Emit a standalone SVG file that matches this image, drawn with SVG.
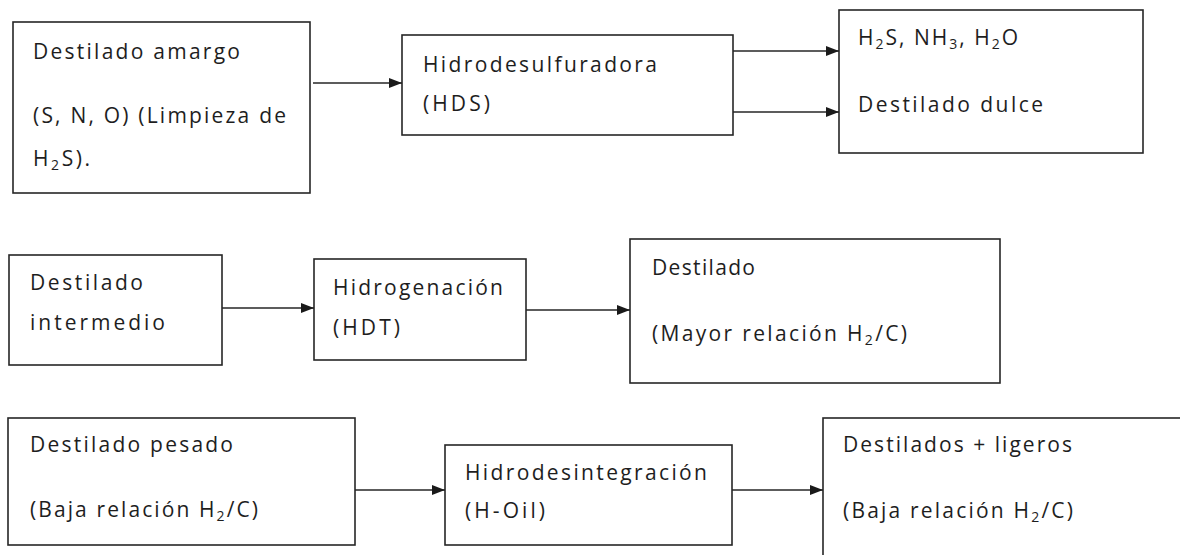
<svg xmlns="http://www.w3.org/2000/svg" width="1180" height="555" viewBox="0 0 1180 555">
  <style>
    .box { fill: #ffffff; stroke: #262626; stroke-width: 1.6; }
    .lbl { font-family: "Open Sans", "Liberation Sans", Arial, sans-serif; font-size: 21px; fill: #1e1e1e; }
    .sub { font-size: 14px; }
    .wire { fill: none; stroke: #262626; stroke-width: 1.6; marker-end: url(#head); }
  </style>
  <defs>
    <marker id="head" markerUnits="userSpaceOnUse" markerWidth="14" markerHeight="12" refX="13" refY="6" orient="auto">
      <path d="M0,1 L13,6 L0,11 z" fill="#1a1a1a"/>
    </marker>
  </defs>
  <rect width="1180" height="555" fill="#ffffff"/>

  <!-- Fila 1: hidrodesulfuración -->
  <g id="destilado-amargo">
    <rect class="box" x="13" y="22" width="297" height="171"/>
    <text class="lbl" x="33" y="59" textLength="207" lengthAdjust="spacing">Destilado amargo</text>
    <text class="lbl" x="33" y="123" textLength="253" lengthAdjust="spacing">(S, N, O) (Limpieza de</text>
    <text class="lbl" x="33" y="166" textLength="57" lengthAdjust="spacing">H<tspan class="sub" dy="4">2</tspan><tspan dy="-4">S).</tspan></text>
  </g>
  <g id="hds">
    <rect class="box" x="402" y="35" width="331" height="100"/>
    <text class="lbl" x="423" y="72" textLength="234" lengthAdjust="spacing">Hidrodesulfuradora</text>
    <text class="lbl" x="423" y="111" textLength="67" lengthAdjust="spacing">(HDS)</text>
  </g>
  <g id="productos-hds">
    <rect class="box" x="839" y="10" width="304" height="143"/>
    <text class="lbl" x="858" y="45" textLength="160" lengthAdjust="spacing">H<tspan class="sub" dy="4">2</tspan><tspan dy="-4">S, NH</tspan><tspan class="sub" dy="4">3</tspan><tspan dy="-4">, H</tspan><tspan class="sub" dy="4">2</tspan><tspan dy="-4">O</tspan></text>
    <text class="lbl" x="858" y="112" textLength="185" lengthAdjust="spacing">Destilado dulce</text>
  </g>

  <!-- Fila 2: hidrogenación -->
  <g id="destilado-intermedio">
    <rect class="box" x="9" y="255" width="213" height="110"/>
    <text class="lbl" x="30" y="290" textLength="113" lengthAdjust="spacing">Destilado</text>
    <text class="lbl" x="30" y="330" textLength="135" lengthAdjust="spacing">intermedio</text>
  </g>
  <g id="hdt">
    <rect class="box" x="314" y="259" width="212" height="101"/>
    <text class="lbl" x="333" y="295" textLength="170" lengthAdjust="spacing">Hidrogenación</text>
    <text class="lbl" x="333" y="335" textLength="67" lengthAdjust="spacing">(HDT)</text>
  </g>
  <g id="destilado-hdt">
    <rect class="box" x="630" y="239" width="370" height="144"/>
    <text class="lbl" x="652" y="275" textLength="103" lengthAdjust="spacing">Destilado</text>
    <text class="lbl" x="652" y="341" textLength="255" lengthAdjust="spacing">(Mayor relación H<tspan class="sub" dy="4">2</tspan><tspan dy="-4">/C)</tspan></text>
  </g>

  <!-- Fila 3: hidrodesintegración -->
  <g id="destilado-pesado">
    <rect class="box" x="8" y="418" width="347" height="127"/>
    <text class="lbl" x="30" y="452" textLength="203" lengthAdjust="spacing">Destilado pesado</text>
    <text class="lbl" x="30" y="517" textLength="228" lengthAdjust="spacing">(Baja relación H<tspan class="sub" dy="4">2</tspan><tspan dy="-4">/C)</tspan></text>
  </g>
  <g id="h-oil">
    <rect class="box" x="445" y="445" width="287" height="100"/>
    <text class="lbl" x="465" y="480" textLength="242" lengthAdjust="spacing">Hidrodesintegración</text>
    <text class="lbl" x="465" y="518" textLength="80" lengthAdjust="spacing">(H-Oil)</text>
  </g>
  <g id="destilados-ligeros">
    <rect class="box" x="823" y="418" width="400" height="200"/>
    <text class="lbl" x="843" y="452" textLength="229" lengthAdjust="spacing">Destilados + ligeros</text>
    <text class="lbl" x="843" y="518" textLength="230" lengthAdjust="spacing">(Baja relación H<tspan class="sub" dy="4">2</tspan><tspan dy="-4">/C)</tspan></text>
  </g>

  <!-- Conectores -->
  <g id="connectors">
    <line class="wire" x1="313" y1="83" x2="402" y2="83"/>
    <line class="wire" x1="733" y1="51" x2="839" y2="51"/>
    <line class="wire" x1="733" y1="112" x2="839" y2="112"/>
    <line class="wire" x1="222" y1="308" x2="314" y2="308"/>
    <line class="wire" x1="526" y1="310" x2="630" y2="310"/>
    <line class="wire" x1="355" y1="490" x2="445" y2="490"/>
    <line class="wire" x1="732" y1="490" x2="823" y2="490"/>
  </g>
</svg>
